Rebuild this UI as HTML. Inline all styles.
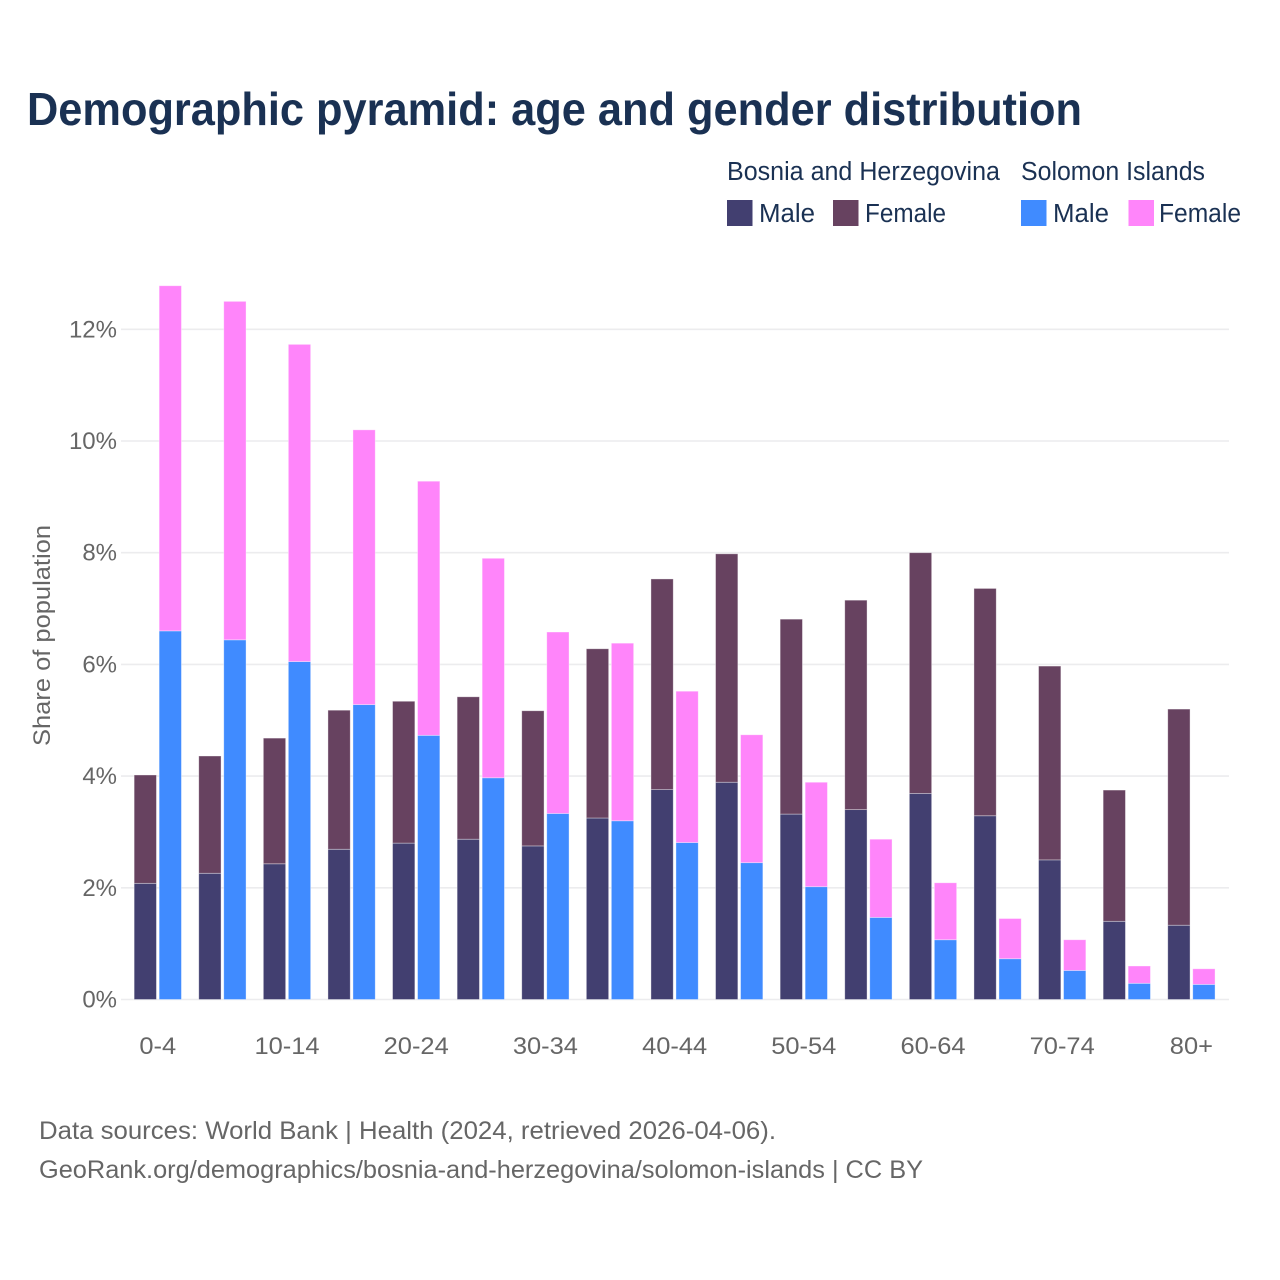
<!DOCTYPE html>
<html lang="en">
<head>
<meta charset="utf-8">
<title>Demographic pyramid: age and gender distribution</title>
<style>
html,body{margin:0;padding:0;background:#fff;}
svg{display:block;}
text{font-family:"Liberation Sans",sans-serif;}
</style>
</head>
<body>
<svg id="chart" xmlns="http://www.w3.org/2000/svg" width="1280" height="1280" viewBox="0 0 1280 1280">
<rect x="0" y="0" width="1280" height="1280" fill="#ffffff"/>
<text x="27" y="125" font-size="46" font-weight="700" fill="#1a3153" textLength="1055" lengthAdjust="spacingAndGlyphs">Demographic pyramid: age and gender distribution</text>

<g font-size="25.5" fill="#1a3153">
<text x="727" y="180" textLength="273" lengthAdjust="spacingAndGlyphs">Bosnia and Herzegovina</text>
<text x="1021" y="180" textLength="184" lengthAdjust="spacingAndGlyphs">Solomon Islands</text>
<rect x="727" y="200" width="25.5" height="26" fill="#423f70"/>
<text x="759" y="222" textLength="56" lengthAdjust="spacingAndGlyphs">Male</text>
<rect x="833" y="200" width="25.5" height="26" fill="#674260"/>
<text x="865" y="222" textLength="81" lengthAdjust="spacingAndGlyphs">Female</text>
<rect x="1021" y="200" width="25.5" height="26" fill="#408bff"/>
<text x="1053" y="222" textLength="56" lengthAdjust="spacingAndGlyphs">Male</text>
<rect x="1128.5" y="200" width="25.5" height="26" fill="#ff85fa"/>
<text x="1159" y="222" textLength="82" lengthAdjust="spacingAndGlyphs">Female</text>
</g>

<g id="grid"></g>
<g id="yticks"></g>
<g id="bars"></g>
<g id="xticks"></g>

<text transform="translate(50,746) rotate(-90)" x="0" y="0" font-size="24" fill="#666666" textLength="221" lengthAdjust="spacingAndGlyphs">Share of population</text>

<g font-size="25" fill="#666666">
<text x="39" y="1139" textLength="737" lengthAdjust="spacingAndGlyphs">Data sources: World Bank | Health (2024, retrieved 2026-04-06).</text>
<text x="39" y="1178" textLength="884" lengthAdjust="spacingAndGlyphs">GeoRank.org/demographics/bosnia-and-herzegovina/solomon-islands | CC BY</text>
</g>
</svg>
<script>
const categories = ["0-4","5-9","10-14","15-19","20-24","25-29","30-34","35-39","40-44","45-49","50-54","55-59","60-64","65-69","70-74","75-79","80+"];
const bosniaMale = [2.08,2.26,2.43,2.69,2.80,2.87,2.75,3.25,3.76,3.89,3.32,3.40,3.69,3.29,2.50,1.40,1.33];
const bosniaFemale = [1.94,2.10,2.25,2.49,2.54,2.55,2.42,3.03,3.77,4.09,3.49,3.75,4.31,4.07,3.47,2.35,3.87];
const solomonMale = [6.60,6.44,6.05,5.28,4.73,3.97,3.33,3.20,2.81,2.45,2.02,1.47,1.07,0.73,0.52,0.29,0.27];
const solomonFemale = [6.18,6.06,5.68,4.92,4.55,3.93,3.25,3.18,2.71,2.29,1.87,1.40,1.02,0.72,0.55,0.31,0.28];
const yTickValues = [0,2,4,6,8,10,12];
const xTickLabels = ["0-4","10-14","20-24","30-34","40-44","50-54","60-64","70-74","80+"];

const NS = "http://www.w3.org/2000/svg";
function yScale(v){ return 999.5 - 55.85 * v; }
function xCenter(i){ return 157.8 + 64.6 * i; }
const barWidth = 22.3;
const barGap = 2.7;

const gridG = document.getElementById("grid");
const yG = document.getElementById("yticks");
yTickValues.forEach(function(t){
  const line = document.createElementNS(NS,"line");
  line.setAttribute("x1",121);
  line.setAttribute("x2",1229);
  line.setAttribute("y1",yScale(t));
  line.setAttribute("y2",yScale(t));
  line.setAttribute("stroke","#ececee");
  line.setAttribute("stroke-width",1.6);
  
  
  gridG.appendChild(line);
  const label = document.createElementNS(NS,"text");
  label.setAttribute("x",117);
  label.setAttribute("y",yScale(t)+8);
  label.setAttribute("text-anchor","end");
  label.setAttribute("font-size",24);
  label.setAttribute("fill","#666666");
  label.textContent = t + "%";
  
  
  yG.appendChild(label);
});

function addBar(parent, x, base, value, color, name){
  const top = yScale(base + value);
  const bottom = yScale(base);
  const r = document.createElementNS(NS,"rect");
  r.setAttribute("x",x);
  r.setAttribute("y",top);
  r.setAttribute("width",barWidth);
  r.setAttribute("height",Math.max(0,bottom-top));
  r.setAttribute("fill",color);
  r.setAttribute("stroke","rgba(255,255,255,0.45)");
  r.setAttribute("stroke-width",0.8);
  
  
  parent.appendChild(r);
}

const barsG = document.getElementById("bars");
categories.forEach(function(cat,i){
  const left = xCenter(i) - barGap/2 - barWidth;
  const right = xCenter(i) + barGap/2;
  addBar(barsG,left,0,bosniaMale[i],"#423f70","bar-bosnia-male");
  addBar(barsG,left,bosniaMale[i],bosniaFemale[i],"#674260","bar-bosnia-female");
  addBar(barsG,right,0,solomonMale[i],"#408bff","bar-solomon-male");
  addBar(barsG,right,solomonMale[i],solomonFemale[i],"#ff85fa","bar-solomon-female");
});

const xG = document.getElementById("xticks");
xTickLabels.forEach(function(lbl){
  const i = categories.indexOf(lbl);
  const t = document.createElementNS(NS,"text");
  t.setAttribute("x",xCenter(i));
  t.setAttribute("y",1054);
  t.setAttribute("text-anchor","middle");
  t.setAttribute("font-size",24);
  t.setAttribute("fill","#666666");
  t.textContent = lbl;
  
  
  xG.appendChild(t);
  const len = t.getComputedTextLength();
  t.setAttribute("textLength",len*1.06);
  t.setAttribute("lengthAdjust","spacingAndGlyphs");
});
</script>
</body>
</html>
